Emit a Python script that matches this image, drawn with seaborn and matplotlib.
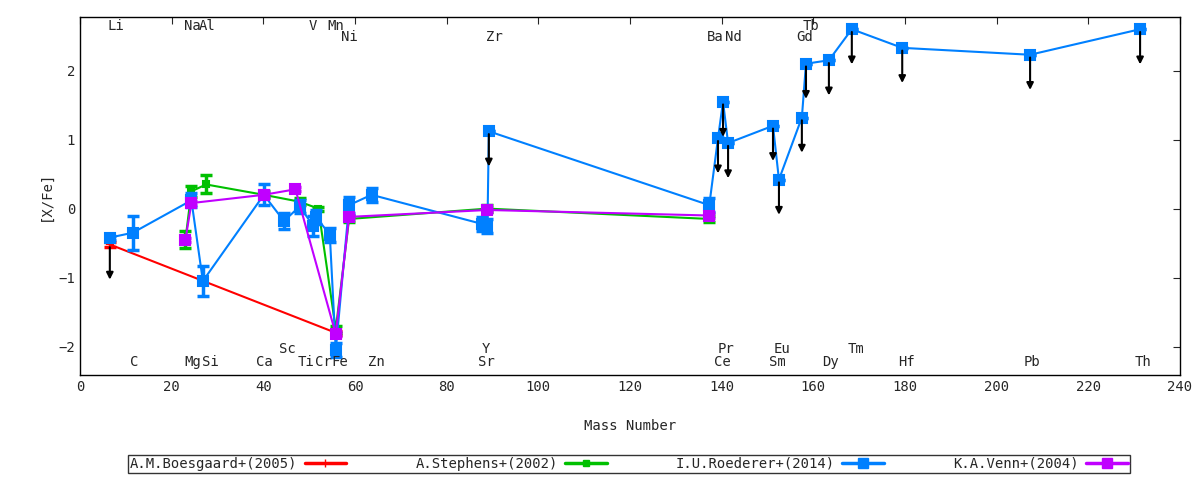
import matplotlib
matplotlib.use("Agg")
import matplotlib.pyplot as plt
import seaborn as sns
import pandas as pd

# A.M.Boesgaard+(2005)
boes_mass = [6.5, 55.8]
boes_val = [-0.52, -1.80]
boes_err = [0.03, 0.03]
boes_limit = [True, False]

# A.Stephens+(2002)
steph_mass = [23.0, 24.3, 27.5, 40.1, 47.9, 52.0, 55.8, 58.7, 88.9, 137.3]
steph_val = [-0.45, 0.25, 0.35, 0.20, 0.10, 0.00, -1.75, -0.15, 0.00, -0.15]
steph_err = [0.12, 0.08, 0.13, 0.05, 0.05, 0.03, 0.05, 0.05, 0.05, 0.05]

# I.U.Roederer+(2014)
roed_mass = [6.5, 11.5, 24.3, 26.8, 40.1, 44.5, 47.9, 50.9, 51.5, 54.5, 55.8, 58.7, 63.6,
             87.6, 88.9, 89.2, 137.3, 139.2, 140.3, 141.4, 151.2, 152.5, 157.5, 158.4,
             163.4, 168.4, 179.4, 207.3, 231.3]
roed_val = [-0.42, -0.35, 0.12, -1.05, 0.20, -0.18, 0.03, -0.25, -0.12, -0.38, -2.05, 0.05, 0.20,
            -0.22, -0.25, 1.12, 0.05, 1.02, 1.55, 0.95, 1.20, 0.42, 1.32, 2.10,
            2.15, 2.60, 2.33, 2.23, 2.60]
roed_err = [0.03, 0.25, 0.10, 0.22, 0.15, 0.12, 0.10, 0.15, 0.10, 0.10, 0.10, 0.12, 0.10,
            0.10, 0.10, 0.0, 0.10, 0.0, 0.0, 0.0, 0.0, 0.0, 0.0, 0.0,
            0.0, 0.0, 0.0, 0.0, 0.0]
roed_limit = [False] * 15 + [True, False] + [True] * 12

# K.A.Venn+(2004)
venn_mass = [23.0, 24.3, 40.1, 47.0, 55.8, 58.7, 88.9, 137.3]
venn_val = [-0.45, 0.08, 0.20, 0.28, -1.82, -0.12, -0.02, -0.10]
venn_err = [0.03] * 8

# element labels: (name, x, y)
labels_top = [("Li", 7.9, 2.64), ("Na", 24.5, 2.64), ("Al", 27.8, 2.64), ("V", 50.8, 2.64),
              ("Mn", 55.8, 2.64), ("Ni", 58.8, 2.49), ("Zr", 90.5, 2.49), ("Ba", 138.7, 2.49),
              ("Nd", 142.5, 2.49), ("Gd", 158.0, 2.49), ("Tb", 159.6, 2.64)]
labels_bot = [("C", 11.9, -2.23), ("Mg", 24.7, -2.23), ("Si", 28.5, -2.23), ("Ca", 40.3, -2.23),
              ("Sc", 45.3, -2.03), ("Ti", 49.2, -2.23), ("Cr", 53.0, -2.23), ("Fe", 56.6, -2.23),
              ("Zn", 64.7, -2.23), ("Y", 88.6, -2.03), ("Sr", 88.6, -2.23), ("Pr", 141.0, -2.03),
              ("Ce", 140.2, -2.23), ("Eu", 153.2, -2.03), ("Sm", 152.1, -2.23), ("Dy", 163.8, -2.23),
              ("Tm", 169.3, -2.03), ("Hf", 180.3, -2.23), ("Pb", 207.8, -2.23), ("Th", 232.0, -2.23)]

sns.set_style("white")
plt.rcParams["font.family"] = ["DejaVu Sans Mono", "DejaVu Sans"]
fig, ax = plt.subplots(figsize=(12, 4.8), dpi=100)
fig.subplots_adjust(left=0.0667, right=0.9833, top=0.965, bottom=0.219)

series = [
    ("A.M.Boesgaard+(2005)", boes_mass, boes_val, boes_err, "#ff0000", "+", 6),
    ("A.Stephens+(2002)", steph_mass, steph_val, steph_err, "#00c000", "s", 4),
    ("I.U.Roederer+(2014)", roed_mass, roed_val, roed_err, "#0080ff", "s", 7),
    ("K.A.Venn+(2004)", venn_mass, venn_val, venn_err, "#c000ff", "s", 7),
]
for name, m, v, e, col, mk, ms in series:
    df = pd.DataFrame({"mass": m, "val": v})
    sns.lineplot(data=df, x="mass", y="val", sort=False, estimator=None, color=col,
                 lw=1.5, marker=mk, markersize=ms, markeredgecolor=col, mew=1.5, ax=ax, legend=False)
    ax.errorbar(m, v, yerr=e, fmt="none", ecolor=col, elinewidth=2.5, capsize=4, capthick=2.5)
    ax.plot([], [], color=col, lw=2.5, marker=mk, ms=ms, mec=col, label=name)

# upper-limit arrows
for m, v, lim in list(zip(boes_mass, boes_val, boes_limit)) + list(zip(roed_mass, roed_val, roed_limit)):
    if lim:
        ax.annotate("", xy=(m, v - 0.55), xytext=(m, v),
                    arrowprops=dict(arrowstyle="-|>", color="black", lw=1.5, mutation_scale=10))

for name, x, y in labels_top + labels_bot:
    ax.text(x, y, name, ha="center", va="center", fontsize=10)

ax.set_xlim(0, 240)
ax.set_ylim(-2.41, 2.78)
ax.set_xticks(range(0, 241, 20))
ax.set_yticks([-2, -1, 0, 1, 2])
ax.tick_params(direction="in", top=True, right=True, length=5, labelsize=10)
for s in ax.spines.values():
    s.set_color("black")
    s.set_linewidth(1)
ax.set_xlabel("Mass Number", fontsize=10, labelpad=18)
ax.set_ylabel("[X/Fe]", fontsize=10)

leg = fig.legend(loc="lower center", bbox_to_anchor=(0.524, 0.0), ncol=4, markerfirst=False,
                 fancybox=False, edgecolor="black", fontsize=10, handlelength=3.0,
                 columnspacing=5.0, handletextpad=0.5, borderpad=0.15)
leg.get_frame().set_linewidth(1)

fig.savefig("out.png", dpi=100)
